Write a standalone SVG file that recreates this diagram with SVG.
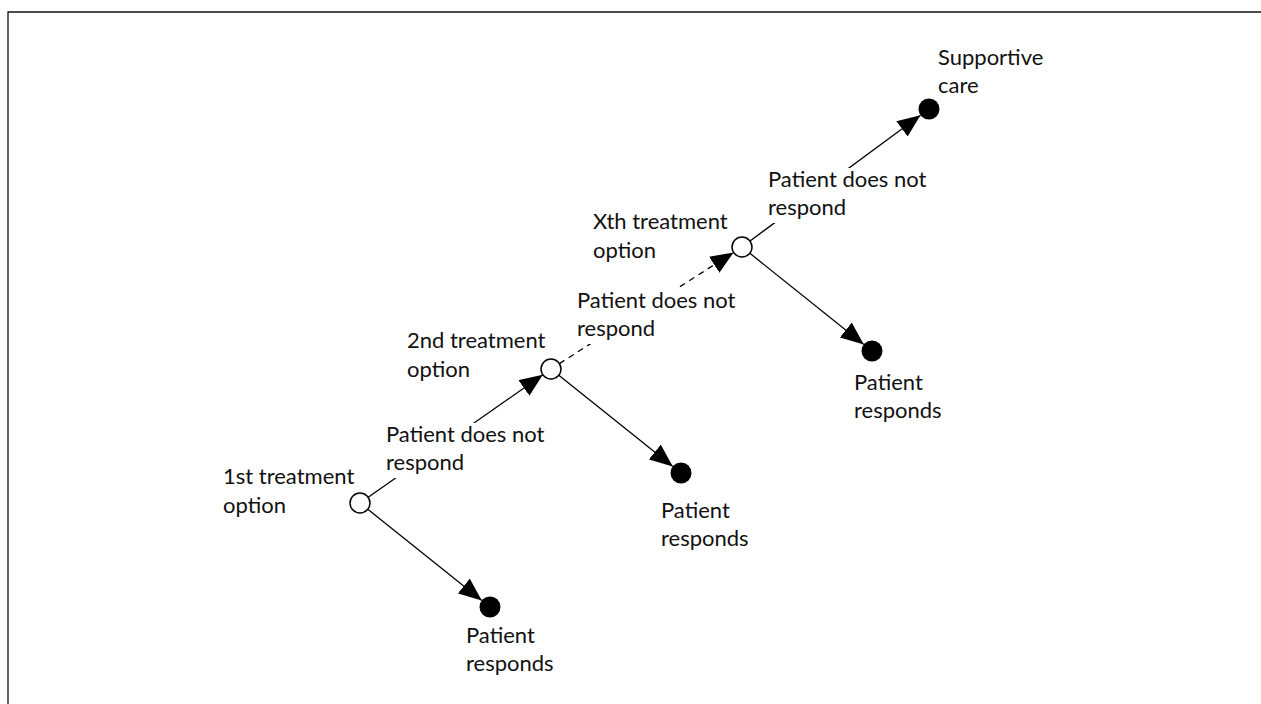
<svg xmlns="http://www.w3.org/2000/svg" width="1261" height="704" viewBox="0 0 1261 704">
  <defs>
    <marker id="arrow" markerUnits="userSpaceOnUse" markerWidth="24" markerHeight="20" refX="23" refY="9.5" orient="auto">
      <path d="M0,0 L23,9.5 L0,19 Z" fill="#000"/>
    </marker>
    <style>
      .frame { fill: none; stroke: #111; stroke-width: 1.3; }
      .edge { fill: none; stroke: #000; stroke-width: 1.3; marker-end: url(#arrow); }
      .dashed { stroke-dasharray: 6 5; }
      .choice { fill: #fff; stroke: #000; stroke-width: 1.5; }
      .outcome { fill: #000; }
      .label { font-family: Lato, "Liberation Sans", sans-serif; font-size: 22px; fill: #111; }
      .halo { fill: #fff; }
    </style>
  </defs>

  <rect width="1261" height="704" fill="#fff"/>
  <!-- page border (runs off the right and bottom edges) -->
  <path class="frame" d="M8,704 V12 H1261"/>

  <!-- connectors -->
  <g id="connectors">
    <line class="edge" x1="367.8" y1="509.2" x2="481.8" y2="600.4"/>
    <line class="edge" x1="368.2" y1="497.2" x2="542.8" y2="374.8"/>
    <line class="edge" x1="558.8" y1="375.2" x2="672.8" y2="466.4"/>
    <line class="edge dashed" x1="559.4" y1="363.6" x2="733.6" y2="252.4"/>
    <line class="edge" x1="749.8" y1="253.2" x2="863.8" y2="344.4"/>
    <line class="edge" x1="750" y1="241" x2="920.5" y2="115.3"/>
  </g>

  <!-- edge labels -->
  <g id="label-no-response-1">
    <rect class="halo" x="383" y="423" width="163" height="55"/>
    <text class="label" x="386" y="442">Patient does not</text>
    <text class="label" x="386" y="470">respond</text>
  </g>
  <g id="label-no-response-2">
    <rect class="halo" x="574" y="289" width="163" height="55"/>
    <text class="label" x="577" y="308">Patient does not</text>
    <text class="label" x="577" y="336">respond</text>
  </g>
  <g id="label-no-response-3">
    <rect class="halo" x="765" y="168" width="163" height="55"/>
    <text class="label" x="768" y="187">Patient does not</text>
    <text class="label" x="768" y="215">respond</text>
  </g>

  <!-- decision nodes -->
  <g id="node-first">
    <circle class="choice" cx="360" cy="503" r="10"/>
    <text class="label" x="223" y="484">1st treatment</text>
    <text class="label" x="223" y="513">option</text>
  </g>
  <g id="node-second">
    <circle class="choice" cx="551" cy="369" r="10"/>
    <text class="label" x="407" y="348">2nd treatment</text>
    <text class="label" x="407" y="377">option</text>
  </g>
  <g id="node-xth">
    <circle class="choice" cx="742" cy="247" r="10"/>
    <text class="label" x="593" y="229">Xth treatment</text>
    <text class="label" x="593" y="258">option</text>
  </g>

  <!-- outcomes -->
  <g id="outcome-first">
    <circle class="outcome" cx="490" cy="607" r="10.5"/>
    <text class="label" x="466" y="643">Patient</text>
    <text class="label" x="466" y="671">responds</text>
  </g>
  <g id="outcome-second">
    <circle class="outcome" cx="681" cy="473" r="10.5"/>
    <text class="label" x="661" y="518">Patient</text>
    <text class="label" x="661" y="546">responds</text>
  </g>
  <g id="outcome-xth">
    <circle class="outcome" cx="872" cy="351" r="10.5"/>
    <text class="label" x="854" y="390">Patient</text>
    <text class="label" x="854" y="418">responds</text>
  </g>
  <g id="outcome-supportive">
    <circle class="outcome" cx="929" cy="109" r="10.5"/>
    <text class="label" x="938" y="65">Supportive</text>
    <text class="label" x="938" y="93">care</text>
  </g>
</svg>
